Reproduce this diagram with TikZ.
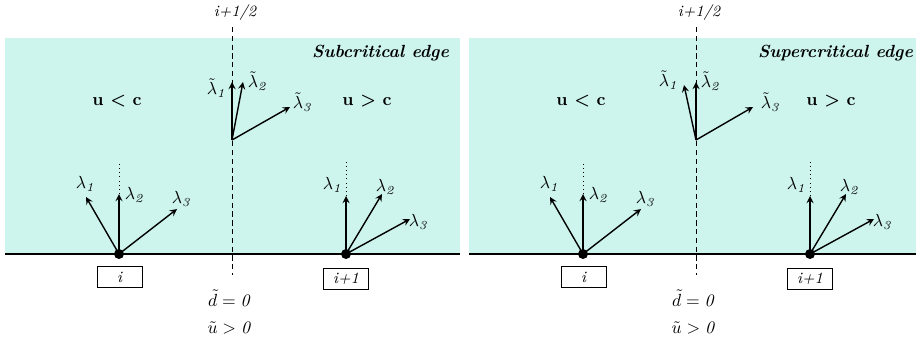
\documentclass[tikz,border=0pt]{standalone}
\usepackage{amsmath}
\usepackage{bm}
\usetikzlibrary{arrows}
\definecolor{shallow}{RGB}{205,245,238}

\begin{document}
\begin{tikzpicture}[x=0.02cm,y=-0.02cm,>=stealth,
  every node/.style={font=\normalsize,inner sep=1pt},
  dot/.style={circle,fill,inner sep=0pt,minimum size=.2cm},
  cell/.style={draw,thin,fill=white,minimum width=.9cm,minimum height=.42cm,
    inner sep=0pt,font=\small\itshape},
  vec/.style={->,thick},
  edgetitle/.style={anchor=east,font=\normalsize\bfseries\itshape}]
 \useasboundingbox (0,0) rectangle (916,342);
 \foreach \p/\dx/\kind in {sub/0/Subcritical,sup/464/Supercritical}{
 \begin{scope}[shift={(\dx,0)},name prefix=\p-]
  \fill[shallow] (5,38) rectangle (460,254);
  \draw[line width=1.2pt] (5,254) -- (460,254);
  \node[edgetitle] (title) at (451,53) {\kind\ edge};
  \node (slow) at (117,101) {\textbf{u < c}};
  \node (fast) at (367,101) {\textbf{u > c}};
  % interface i+1/2
  \coordinate (top) at (232,27);
  \coordinate (bot) at (232,275);
  \coordinate (mid) at (232,140);
  \draw[densely dashed] (top) -- (bot);
  \node (half) at (235,13) {\small\itshape i+1/2};
  \node[inner sep=0pt] (dzero) at (230,298) {$\tilde d = \mathit{0}$};
  \node[inner sep=0pt] (upos) at (230,328) {$\tilde u > \mathit{0}$};
  % cell i
  \node[dot] (i) at (119,254) {};
  \node[cell] (ibox) at (119.5,277) {i};
  \coordinate (i1) at (86,197);
  \coordinate (i2) at (119,194);
  \coordinate (i3) at (177,209);
  \coordinate (i0) at (119,162);
  \draw[dotted] (i2) -- (i0);
  \draw[vec] (i.center) -- (i1);
  \draw[vec] (i.center) -- (i2);
  \draw[vec] (i.center) -- (i3);
  \node (il1) at (86,184) {$\lambda_{\mathit{1}}$};
  \node (il2) at (135,195) {$\lambda_{\mathit{2}}$};
  \node (il3) at (182,199) {$\lambda_{\mathit{3}}$};
  % cell i+1
  \node[dot] (j) at (346,254) {};
  \node[cell] (jbox) at (346,279) {i+1};
  \coordinate (j1) at (346,196);
  \coordinate (j2) at (382,194);
  \coordinate (j3) at (410,219);
  \coordinate (j0) at (346,162);
  \draw[dotted] (j1) -- (j0);
  \draw[vec] (j.center) -- (j1);
  \draw[vec] (j.center) -- (j2);
  \draw[vec] (j.center) -- (j3);
  \node (jl1) at (333,185) {$\lambda_{\mathit{1}}$};
  \node (jl2) at (386,187) {$\lambda_{\mathit{2}}$};
  \node (jl3) at (419,222) {$\lambda_{\mathit{3}}$};
 \end{scope}}
 % subcritical: all three to the right
 \begin{scope}[name prefix=sub-]
  \coordinate (t1) at (232,82);
  \coordinate (t2) at (243,82);
  \coordinate (t3) at (290,107);
  \draw[vec] (mid) -- (t1);
  \draw[vec] (mid) -- (t2);
  \draw[vec] (mid) -- (t3);
  \node (tl1) at (217,88) {$\tilde\lambda_{\mathit{1}}$};
  \node (tl2) at (258,81) {$\tilde\lambda_{\mathit{2}}$};
  \node (tl3) at (303,102) {$\tilde\lambda_{\mathit{3}}$};
 \end{scope}
 % supercritical: first one leans left
 \begin{scope}[shift={(464,0)},name prefix=sup-]
  \coordinate (t1) at (220,85);
  \coordinate (t2) at (232,82);
  \coordinate (t3) at (289,107);
  \draw[vec] (mid) -- (t1);
  \draw[vec] (mid) -- (t2);
  \draw[vec] (mid) -- (t3);
  \node (tl1) at (205,80) {$\tilde\lambda_{\mathit{1}}$};
  \node (tl2) at (247,81) {$\tilde\lambda_{\mathit{2}}$};
  \node (tl3) at (307,102) {$\tilde\lambda_{\mathit{3}}$};
 \end{scope}
\end{tikzpicture}
\end{document}
